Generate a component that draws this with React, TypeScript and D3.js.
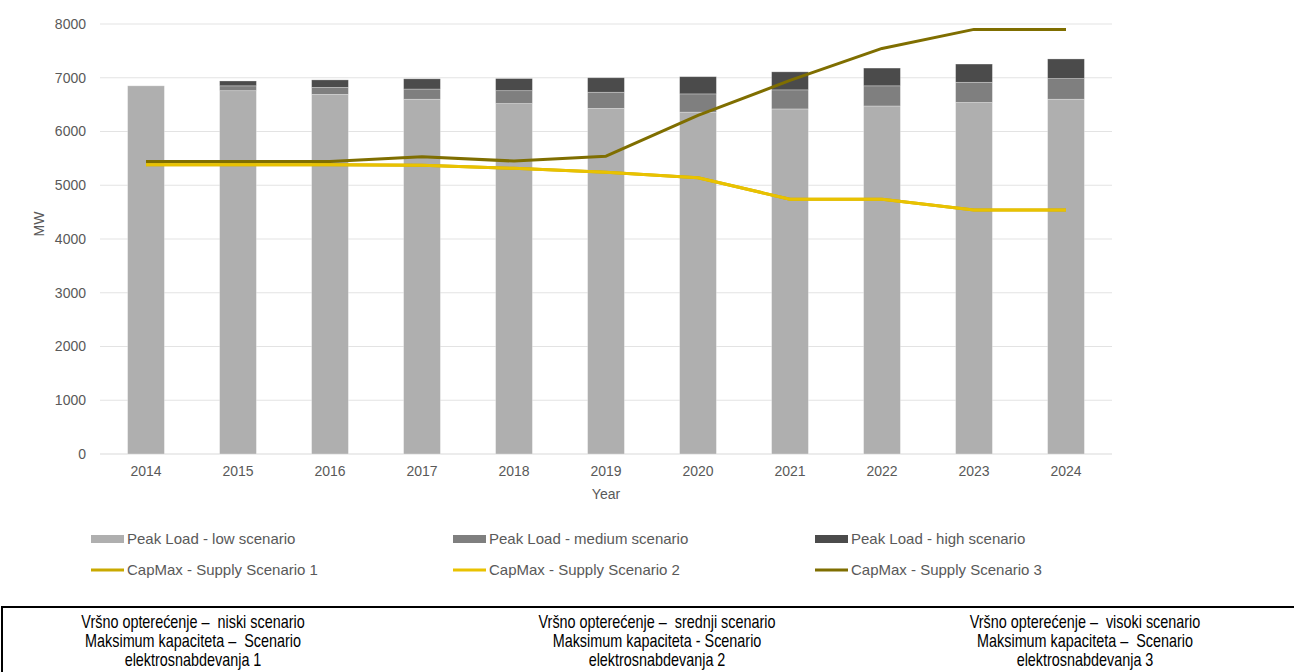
import React from "react";
import * as d3 from "d3";

const years = ["2014","2015","2016","2017","2018","2019","2020","2021","2022","2023","2024"];
// cumulative peak load levels (MW)
const peakLow = [6850, 6760, 6690, 6600, 6520, 6430, 6360, 6420, 6475, 6540, 6600];
const peakMedium = [6850, 6850, 6820, 6790, 6760, 6730, 6700, 6775, 6850, 6915, 6985];
const peakHigh = [6850, 6940, 6960, 6980, 6985, 7000, 7020, 7110, 7180, 7255, 7350];
const supply1 = [5380, 5380, 5380, 5370, 5315, 5240, 5140, 4740, 4740, 4540, 4540];
const supply2 = [5380, 5380, 5380, 5370, 5315, 5240, 5140, 4740, 4740, 4540, 4540];
const supply3 = [5440, 5440, 5440, 5530, 5450, 5540, 6300, 6950, 7545, 7900, 7900];
const yTicks = [0, 1000, 2000, 3000, 4000, 5000, 6000, 7000, 8000];

const barLegend = ["Peak Load - low scenario", "Peak Load - medium scenario", "Peak Load - high scenario"];
const lineLegend = ["CapMax - Supply Scenario 1", "CapMax - Supply Scenario 2", "CapMax - Supply Scenario 3"];
const boxLines = [
  ["Vršno opterećenje –  niski scenario", "Maksimum kapaciteta –  Scenario", "elektrosnabdevanja 1"],
  ["Vršno opterećenje –  srednji scenario", "Maksimum kapaciteta - Scenario", "elektrosnabdevanja 2"],
  ["Vršno opterećenje –  visoki scenario", "Maksimum kapaciteta –  Scenario", "elektrosnabdevanja 3"],
];

const barColors = ["#afafaf", "#7f7f7f", "#4b4b4b"];
const lineColors = ["#c9a900", "#e9c200", "#7f6e00"];
const textColor = "#595959";
const font = "'Liberation Sans', Arial, sans-serif";

export default function App() {
  React.useEffect(() => {
    document.body.style.margin = "0";
  }, []);
  const W = 1294, H = 672;
  const x = d3.scaleBand<string>().domain(years).range([100, 1112]).paddingInner(0.6).paddingOuter(0.3);
  const y = d3.scaleLinear().domain([0, 8000]).range([454, 24]);
  const cx = (yr: string) => (x(yr) as number) + x.bandwidth() / 2;
  const line = d3.line<number>().x((_, i) => cx(years[i])).y((v) => y(v));
  const levels = [peakLow, peakMedium, peakHigh];
  const supplies = [supply1, supply2, supply3];
  const colX = [91, 453, 815];
  const boxCenters = [193, 657, 1085];
  const sx = 0.8;

  return (
    <svg width={W} height={H} style={{ display: "block", background: "#fff" }} fontFamily={font}>
      {yTicks.map((t) => (
        <g key={t}>
          <line x1={100} x2={1112} y1={y(t)} y2={y(t)} stroke={t === 0 ? "#d9d9d9" : "#e3e3e3"} strokeWidth={1} />
          <text x={86} y={y(t)} dy="0.35em" textAnchor="end" fontSize={14} fill={textColor}>{t}</text>
        </g>
      ))}
      {years.map((yr, i) =>
        levels.map((lv, k) => {
          const base = k === 0 ? 0 : levels[k - 1][i];
          const top = lv[i];
          if (top <= base) return null;
          return (
            <rect key={yr + k} x={x(yr)} width={x.bandwidth()} y={y(top)} height={y(base) - y(top)}
              fill={barColors[k]} stroke="#ffffff" strokeOpacity={0.35} strokeWidth={0.8} />
          );
        })
      )}
      {supplies.map((s, k) => (
        <path key={k} d={line(s) as string} fill="none" stroke={lineColors[k]} strokeWidth={3} strokeLinejoin="round" />
      ))}
      {years.map((yr) => (
        <text key={yr} x={cx(yr)} y={471} dy="0.35em" textAnchor="middle" fontSize={14} fill={textColor}>{yr}</text>
      ))}
      <text x={606} y={494} dy="0.35em" textAnchor="middle" fontSize={14} fill={textColor}>Year</text>
      <text transform="translate(39,224) rotate(-90)" dy="0.35em" textAnchor="middle" fontSize={14} fill={textColor}>MW</text>
      {barLegend.map((lbl, k) => (
        <g key={lbl}>
          <rect x={colX[k]} y={535} width={33} height={8} fill={barColors[k]} />
          <text x={colX[k] + 36} y={539} dy="0.35em" fontSize={15} fill={textColor}>{lbl}</text>
        </g>
      ))}
      {lineLegend.map((lbl, k) => (
        <g key={lbl}>
          <line x1={colX[k]} x2={colX[k] + 33} y1={570} y2={570} stroke={lineColors[k]} strokeWidth={3} />
          <text x={colX[k] + 36} y={570} dy="0.35em" fontSize={15} fill={textColor}>{lbl}</text>
        </g>
      ))}
      <rect x={2} y={607} width={W + 10} height={100} fill="none" stroke="#000" strokeWidth={2} />
      {boxLines.map((col, c) =>
        col.map((t, r) => (
          <text key={c + "-" + r} transform={`translate(${boxCenters[c]},${622 + r * 19}) scale(${sx},1)`} dy="0.35em"
            textAnchor="middle" fontSize={18} fill="#000" style={{ whiteSpace: "pre" }}>{t}</text>
        ))
      )}
    </svg>
  );
}
